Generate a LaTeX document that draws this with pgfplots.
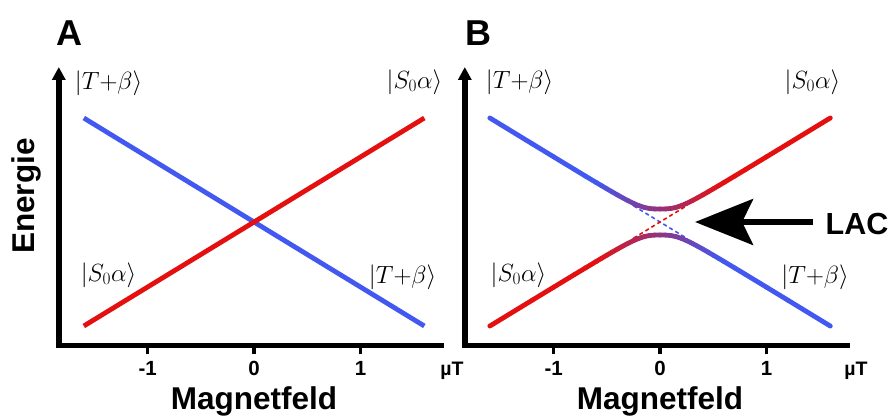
\documentclass[border=0pt]{standalone}
\usepackage[no-math]{fontspec}
\setmainfont{Liberation Sans}
\usepackage{pgfplots}
\usepackage{pgfplotstable}
\pgfplotsset{compat=1.18}
\usetikzlibrary{arrows.meta}

\definecolor{stateblue}{RGB}{66,88,240}
\definecolor{statered}{RGB}{228,16,16}

\newcommand{\ket}[1]{$\bigl|#1\bigr\rangle$}

% upper adiabatic branch: x, energy, colour position (0 = blue, 1 = red)
\pgfplotstableread{
x E c
-1.6 1.601 0
-1.2 1.2018 0
-1.0 1.0027 0
-0.8 0.8041 0
-0.7 0.7054 0
-0.6 0.6073 0
-0.55 0.5587 0.042
-0.5 0.5105 0.083
-0.45 0.4628 0.125
-0.4 0.4160 0.167
-0.35 0.3705 0.208
-0.3 0.3271 0.25
-0.25 0.2869 0.292
-0.2 0.2520 0.333
-0.15 0.2249 0.375
-0.1 0.2080 0.417
-0.05 0.2010 0.458
0 0.2 0.5
0.05 0.2010 0.542
0.1 0.2080 0.583
0.15 0.2249 0.625
0.2 0.2520 0.667
0.25 0.2869 0.708
0.3 0.3271 0.75
0.35 0.3705 0.792
0.4 0.4160 0.833
0.45 0.4628 0.875
0.5 0.5105 0.917
0.55 0.5587 0.958
0.6 0.6073 1
0.7 0.7054 1
0.8 0.8041 1
1.0 1.0027 1
1.2 1.2018 1
1.6 1.601 1
}\upperbranch

% lower adiabatic branch
\pgfplotstableread{
x E c
-1.6 -1.601 1
-1.2 -1.2018 1
-1.0 -1.0027 1
-0.8 -0.8041 1
-0.7 -0.7054 1
-0.6 -0.6073 1
-0.55 -0.5587 0.958
-0.5 -0.5105 0.917
-0.45 -0.4628 0.875
-0.4 -0.4160 0.833
-0.35 -0.3705 0.792
-0.3 -0.3271 0.75
-0.25 -0.2869 0.708
-0.2 -0.2520 0.667
-0.15 -0.2249 0.625
-0.1 -0.2080 0.583
-0.05 -0.2010 0.542
0 -0.2 0.5
0.05 -0.2010 0.458
0.1 -0.2080 0.417
0.15 -0.2249 0.375
0.2 -0.2520 0.333
0.25 -0.2869 0.292
0.3 -0.3271 0.25
0.35 -0.3705 0.208
0.4 -0.4160 0.167
0.45 -0.4628 0.125
0.5 -0.5105 0.083
0.55 -0.5587 0.042
0.6 -0.6073 0
0.7 -0.7054 0
0.8 -0.8041 0
1.0 -1.0027 0
1.2 -1.2018 0
1.6 -1.601 0
}\lowerbranch

\pgfplotsset{
  levelaxis/.style={
    scale only axis, width=385pt, height=278.5pt,
    xmin=-1.835, xmax=1.783, ymin=-1.90, ymax=2.385,
    axis lines=left, clip=false,
    axis line style={line width=5.5pt, black},
    x axis line style={-},
    y axis line style={-{Triangle[length=13pt,width=13pt]}, line cap=rect},
    xtick={-1,0,1}, xticklabels={-1,0,1}, ytick=\empty,
    tick align=outside, major tick length=9pt,
    every tick/.style={line width=3.5pt, black},
    xticklabel style={font=\fontsize{20.5}{23}\selectfont\bfseries, yshift=-3pt},
    colormap={bluered}{rgb255=(66,88,240) rgb255=(228,16,16)},
    point meta min=0, point meta max=1,
  },
}
\tikzset{
  ketlabel/.style={font=\fontsize{25}{28}\selectfont, inner sep=0pt},
  bigbold/.style={font=\fontsize{31.5}{34}\selectfont\bfseries, inner sep=0pt},
  panellabel/.style={font=\fontsize{36}{40}\selectfont\bfseries, inner sep=0pt, anchor=base},
  unitlabel/.style={font=\fontsize{19.5}{22}\selectfont\bfseries, inner sep=0pt, anchor=base},
}

\begin{document}
\begin{tikzpicture}
\path[use as bounding box] (0,0) rectangle (895pt,417pt);

% ---------- A: diabatic level crossing ----------
\begin{axis}[levelaxis, at={(58.8pt,71.5pt)}, anchor=south west]
  \addplot[stateblue, line width=4.8pt] coordinates {(-1.6,1.6) (1.6,-1.6)};
  \addplot[statered, line width=4.8pt] coordinates {(-1.6,-1.6) (1.6,1.6)};
  \node[ketlabel] at (axis cs:-1.367,2.138) {\ket{T{+}\beta}};
  \node[ketlabel] at (axis cs:1.508,2.154) {\ket{S_0\alpha}};
  \node[ketlabel] at (axis cs:-1.367,-0.815) {\ket{S_0\alpha}};
  \node[ketlabel] at (axis cs:1.396,-0.846) {\ket{T{+}\beta}};
  \node[panellabel] at (axis cs:-1.739,2.723) {A};
  \node[bigbold, rotate=90, anchor=base] at (axis cs:-2.068,0.4) {Energie};
  \node[bigbold, anchor=base] at (axis cs:0,-2.892) {Magnetfeld};
  \node[unitlabel] at (axis cs:1.86,-2.354) {µT};
\end{axis}

% ---------- B: level anti-crossing ----------
\begin{axis}[levelaxis, at={(464.8pt,71.5pt)}, anchor=south west]
  \addplot[stateblue, line width=1.6pt, dash pattern=on 4pt off 3pt] coordinates {(-0.25,0.25) (0.25,-0.25)};
  \addplot[statered, line width=1.6pt, dash pattern=on 4pt off 3pt] coordinates {(-0.25,-0.25) (0.25,0.25)};
  \addplot[mesh, point meta=explicit, line width=4.8pt, line cap=round] table[x=x, y=E, meta=c] {\upperbranch};
  \addplot[mesh, point meta=explicit, line width=4.8pt, line cap=round] table[x=x, y=E, meta=c] {\lowerbranch};
  \node[ketlabel] at (axis cs:-1.320,2.154) {\ket{T{+}\beta}};
  \node[ketlabel] at (axis cs:1.433,2.154) {\ket{S_0\alpha}};
  \node[ketlabel] at (axis cs:-1.330,-0.815) {\ket{S_0\alpha}};
  \node[ketlabel] at (axis cs:1.457,-0.846) {\ket{T{+}\beta}};
  \node[panellabel] at (axis cs:-1.711,2.723) {B};
  \node[bigbold, anchor=base] at (axis cs:0,-2.892) {Magnetfeld};
  \node[unitlabel] at (axis cs:1.84,-2.354) {µT};
  \draw[line width=5.5pt, -{Stealth[length=58pt,width=46pt,inset=11pt]}] (axis cs:1.438,0) -- (axis cs:0.329,0);
  \node[font=\fontsize{30.5}{34}\selectfont\bfseries, inner sep=0pt, anchor=west] at (axis cs:1.555,-0.03) {LAC};
\end{axis}
\end{tikzpicture}
\end{document}
